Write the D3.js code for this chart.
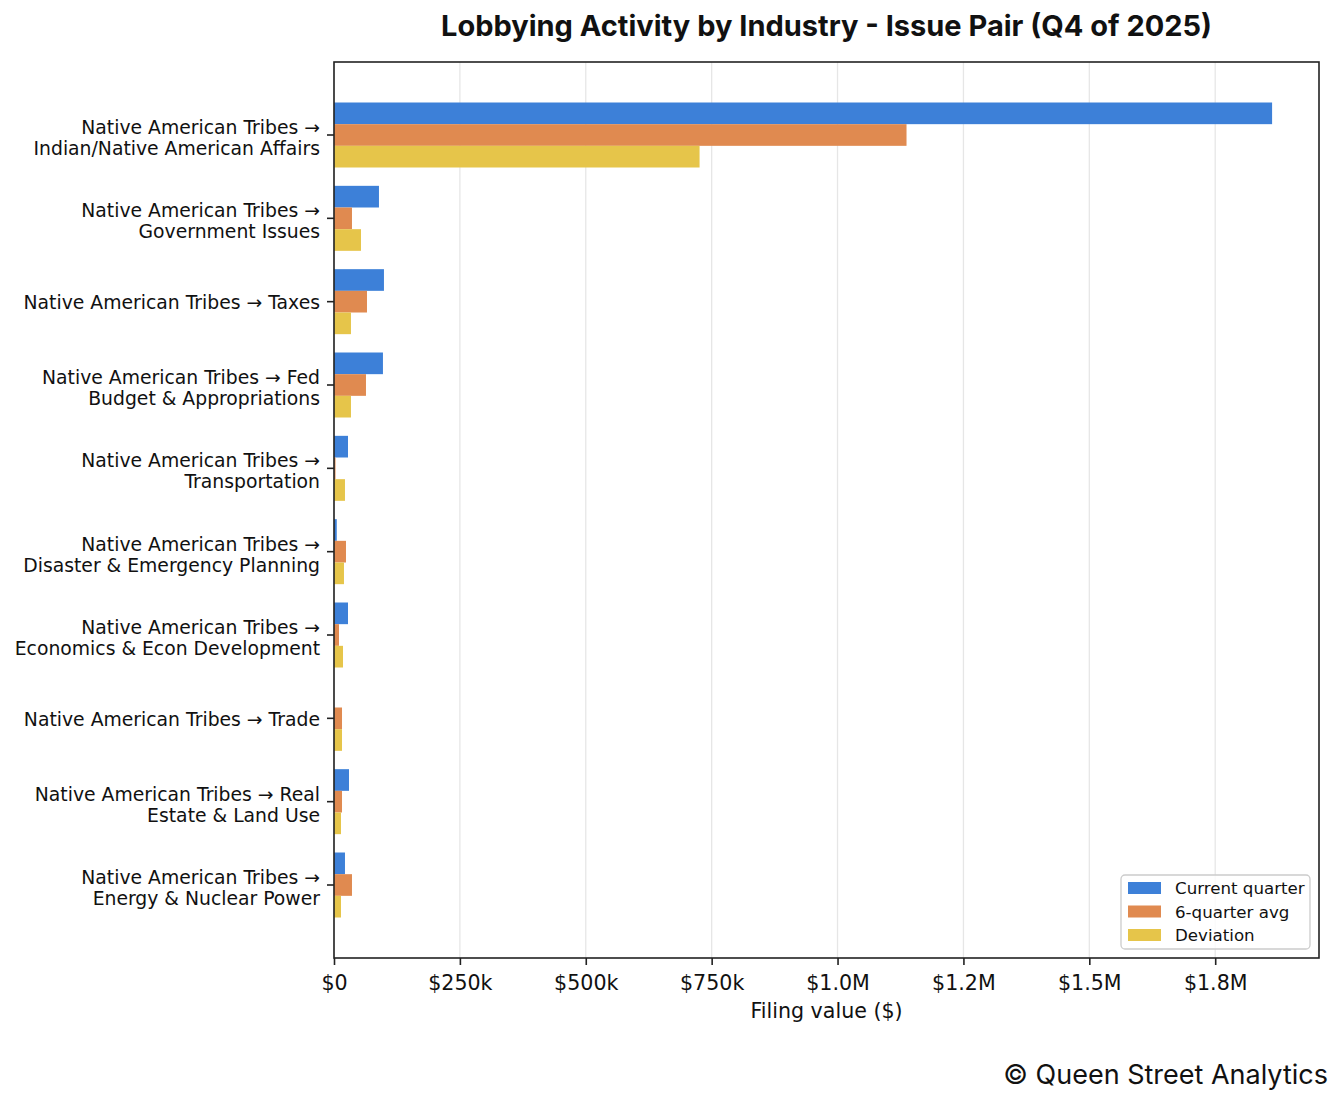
<!DOCTYPE html>
<html>
<head>
<meta charset="utf-8">
<script src="https://cdn.jsdelivr.net/npm/d3@7"></script>
<style>
  body { margin: 0; background: #fff; }
  svg text { fill: #111; }
  .ylab { font-family: "DejaVu Sans", sans-serif; font-size: 18.8px; }
  .xlab { font-family: "DejaVu Sans", sans-serif; font-size: 20.6px; }
  .legend-label { font-family: "DejaVu Sans", sans-serif; font-size: 16.67px; }
</style>
</head>
<body>
<svg id="chart"></svg>
<script>
// chart values
const categories = [
  "Native American Tribes →\nIndian/Native American Affairs",
  "Native American Tribes →\nGovernment Issues",
  "Native American Tribes → Taxes",
  "Native American Tribes → Fed\nBudget & Appropriations",
  "Native American Tribes →\nTransportation",
  "Native American Tribes →\nDisaster & Emergency Planning",
  "Native American Tribes →\nEconomics & Econ Development",
  "Native American Tribes → Trade",
  "Native American Tribes → Real\nEstate & Land Use",
  "Native American Tribes →\nEnergy & Nuclear Power",
];
const currentQuarter = [1863000, 89300, 99200, 97200, 27800, 5500, 27800, 0, 29800, 21800];
const sixQuarterAvg  = [1137000, 35700, 65500, 63500, 3000, 23800, 9900, 15900, 15900, 35700];
const deviation      = [726000, 53600, 33700, 33700, 21800, 19800, 17900, 15900, 13900, 13900];
const seriesNames = ["Current quarter", "6-quarter avg", "Deviation"];
const seriesColors = ["#3d80d8", "#e08a50", "#e6c54a"];
const xTickValues = [0, 250000, 500000, 750000, 1000000, 1250000, 1500000, 1750000];
const xTickLabels = ["$0", "$250k", "$500k", "$750k", "$1.0M", "$1.2M", "$1.5M", "$1.8M"];

const width = 1344, height = 1104;
const margin = {top: 62, right: 25, bottom: 146, left: 334};
const plotW = width - margin.left - margin.right;
const plotH = height - margin.top - margin.bottom;

const svg = d3.select("#chart")
  .attr("width", width)
  .attr("height", height);

const series = [currentQuarter, sixQuarterAvg, deviation];
const xmax = d3.max(series.flat()) * 1.05;

const x = d3.scaleLinear()
  .domain([0, xmax])
  .range([margin.left, margin.left + plotW]);

const y = d3.scaleBand()
  .domain(d3.range(categories.length))
  .range([margin.top, margin.top + plotH])
  .paddingInner(0)
  .paddingOuter(0.376);

const ySub = d3.scaleBand()
  .domain(d3.range(seriesNames.length))
  .range([y.bandwidth() * 0.11, y.bandwidth() * 0.89]);

// grid
svg.append("g")
  .selectAll("line")
  .data(xTickValues)
  .join("line")
  .attr("x1", d => x(d)).attr("x2", d => x(d))
  .attr("y1", margin.top).attr("y2", margin.top + plotH)
  .attr("stroke", "#e6e6e6")
  .attr("stroke-width", 1.3);

// bars
const rows = categories.map((c, i) => ({i, values: series.map(s => s[i])}));
svg.append("g")
  .selectAll("g")
  .data(rows)
  .join("g")
  .attr("transform", d => `translate(0,${y(d.i)})`)
  .selectAll("rect")
  .data(d => d.values)
  .join("rect")
  .attr("x", x(0))
  .attr("y", (_, j) => ySub(j))
  .attr("width", v => x(v) - x(0))
  .attr("height", ySub.bandwidth())
  .attr("fill", (_, j) => seriesColors[j]);

// x axis
const xAxis = svg.append("g")
  .attr("transform", `translate(0,${margin.top + plotH})`)
  .call(d3.axisBottom(x)
    .tickValues(xTickValues)
    .tickFormat((_, i) => xTickLabels[i])
    .tickSizeInner(7)
    .tickSizeOuter(0)
    .tickPadding(6));
xAxis.select(".domain").remove();
xAxis.selectAll(".tick line").attr("stroke", "#222").attr("stroke-width", 1.6);
xAxis.selectAll(".tick text")
  .attr("class", "xlab")
  .attr("fill", "#111")
  .attr("dy", "0.92em");

// y axis
const yAxis = svg.append("g")
  .attr("transform", `translate(${margin.left},0)`)
  .call(d3.axisLeft(y)
    .tickFormat("")
    .tickSizeInner(7)
    .tickSizeOuter(0));
yAxis.select(".domain").remove();
yAxis.selectAll(".tick line").attr("stroke", "#222").attr("stroke-width", 1.6);

const lineH = 21;
yAxis.selectAll(".tick").each(function(i) {
  const lines = categories[i].split("\n");
  const n = lines.length;
  const t = d3.select(this).append("text")
    .attr("class", "ylab")
    .attr("text-anchor", "end")
    .attr("x", -14)
    .attr("fill", "#111");
  lines.forEach((ln, k) => {
    t.append("tspan")
      .attr("x", -14)
      .attr("y", 7.6 + (n - 1) * 1.9 + (k - (n - 1) / 2) * lineH)
      .text(ln);
  });
});

// frame
svg.append("rect")
  .attr("x", margin.left).attr("y", margin.top)
  .attr("width", plotW).attr("height", plotH)
  .attr("fill", "none")
  .attr("stroke", "#222")
  .attr("stroke-width", 1.6);

// axis label
svg.append("text")
  .attr("class", "xlab")
  .attr("x", margin.left + plotW / 2)
  .attr("y", 1018)
  .attr("text-anchor", "middle")
  .text("Filing value ($)");

// legend
const legW = 189, legH = 74;
const legX = margin.left + plotW - 9 - legW;
const legY = margin.top + plotH - 9 - legH;
const legend = svg.append("g").attr("transform", `translate(${legX},${legY})`);
legend.append("rect")
  .attr("width", legW).attr("height", legH)
  .attr("rx", 4)
  .attr("fill", "#fff").attr("fill-opacity", 0.8)
  .attr("stroke", "#ccc").attr("stroke-width", 1.3);
seriesNames.forEach((name, j) => {
  const cy = 13 + j * 23.5;
  legend.append("rect")
    .attr("x", 7).attr("y", cy - 6)
    .attr("width", 33).attr("height", 12)
    .attr("fill", seriesColors[j]);
  legend.append("text")
    .attr("class", "legend-label")
    .attr("x", 54).attr("y", cy + 6)
    .text(name);
});

// title and footer
svg.append("text")
  .attr("x", margin.left + plotW / 2)
  .attr("y", 36)
  .attr("text-anchor", "middle")
  .style("font-family", "Inter, sans-serif")
  .style("font-weight", 700)
  .style("font-size", "29px")
  .text("Lobbying Activity by Industry - Issue Pair (Q4 of 2025)");

svg.append("text")
  .attr("x", 1328)
  .attr("y", 1084)
  .attr("text-anchor", "end")
  .style("font-family", "Inter, sans-serif")
  .style("font-size", "27px")
  .text("© Queen Street Analytics");
</script>
</body>
</html>
